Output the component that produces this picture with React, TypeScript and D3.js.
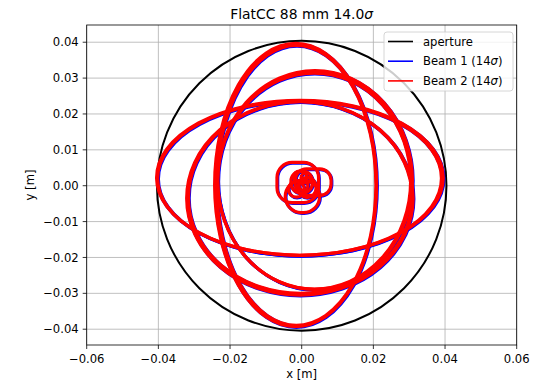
import React, { useEffect, useRef } from 'react'
import * as d3 from 'd3'

const xTicks = [-0.06, -0.04, -0.02, 0, 0.02, 0.04, 0.06]
const yTicks = [-0.04, -0.03, -0.02, -0.01, 0, 0.01, 0.02, 0.03, 0.04]
const apertureRadius = 0.0404

// beam envelope ellipses (centre and half axes, metres), several traces per band
const beam2Cx = [-0.0017, -0.0015, 0.0037, 0.0035, -0.0005, -0.0004, -0.0005, -0.0006]
const beam2Cy = [0.0002, 0.0001, 0.0016, 0.0013, -0.0035, -0.0033, 0.0022, 0.0021]
const beam2Rx = [0.0226, 0.0222, 0.0272, 0.0269, 0.0316, 0.0312, 0.04, 0.0396]
const beam2Ry = [0.0395, 0.039, 0.0305, 0.0301, 0.027, 0.0267, 0.0216, 0.0215]

const beam1Cx = [-0.0015, -0.0013, 0.0039, 0.0037, -0.0003, -0.0002, -0.0003, -0.0004]
const beam1Cy = [0.0, -0.0001, 0.0014, 0.0011, -0.0037, -0.0035, 0.002, 0.0019]
const beam1Rx = [0.0226, 0.0222, 0.0272, 0.0269, 0.0316, 0.0312, 0.04, 0.0396]
const beam1Ry = [0.0395, 0.039, 0.0305, 0.0301, 0.027, 0.0267, 0.0216, 0.0215]

// small beam cores near the centre (rounded squares)
const core2Cx = [-0.0011, 0.0032, 0.0002, 0.0, 0.0015, -0.0015, 0.0005, -0.0004, 0.0012]
const core2Cy = [0.0009, 0.001, -0.003, 0.001, -0.0005, -0.001, 0.0002, 0.0025, 0.0022]
const core2Hw = [0.0058, 0.005, 0.0048, 0.003, 0.0025, 0.0022, 0.0012, 0.0018, 0.0014]
const core2Hh = [0.0056, 0.0037, 0.0045, 0.003, 0.0028, 0.0022, 0.0015, 0.0016, 0.0014]
const core2Round = [0.75, 0.85, 1, 0.9, 1, 1, 1, 1, 1]

const core1Cx = [-0.0009, 0.0034, 0.0004, 0.0002, 0.0017, -0.0013, 0.0007, -0.0002, 0.0014]
const core1Cy = [0.0007, 0.0008, -0.0032, 0.0008, -0.0007, -0.0012, 0.0, 0.0023, 0.002]
const core1Hw = [0.0058, 0.005, 0.0048, 0.003, 0.0025, 0.0022, 0.0012, 0.0018, 0.0014]
const core1Hh = [0.0056, 0.0037, 0.0045, 0.003, 0.0028, 0.0022, 0.0015, 0.0016, 0.0014]
const core1Round = [0.75, 0.85, 1, 0.9, 1, 1, 1, 1, 1]

const legendLabels = ['aperture', 'Beam 1 (14', 'Beam 2 (14']
const legendColors = ['#000000', '#0000ff', '#ff0000']

const fmt = (v: number) => {
  const s = v.toFixed(2)
  return s.startsWith('-') ? '\u2212' + s.slice(1) : s
}

export default function App() {
  const svgRef = useRef<SVGSVGElement>(null)

  useEffect(() => {
    if (!svgRef.current) return
    const svg = d3.select(svgRef.current)
    svg.selectAll('*').remove()

    const width = 542
    const height = 383
    const margin = { top: 25, right: 25.3, bottom: 38, left: 86.7 }
    const font = 'DejaVu Sans, sans-serif'

    const x = d3.scaleLinear().domain([-0.06, 0.06]).range([margin.left, width - margin.right])
    const y = d3.scaleLinear().domain([-0.0444, 0.0448]).range([height - margin.bottom, margin.top])

    const g = svg.append('g')

    // grid
    g.selectAll('.vgrid')
      .data(xTicks)
      .join('line')
      .attr('x1', (d) => x(d))
      .attr('x2', (d) => x(d))
      .attr('y1', y.range()[0])
      .attr('y2', y.range()[1])
      .attr('stroke', '#b0b0b0')
      .attr('stroke-width', 0.8)

    g.selectAll('.hgrid')
      .data(yTicks)
      .join('line')
      .attr('x1', x.range()[0])
      .attr('x2', x.range()[1])
      .attr('y1', (d) => y(d))
      .attr('y2', (d) => y(d))
      .attr('stroke', '#b0b0b0')
      .attr('stroke-width', 0.8)

    svg
      .append('clipPath')
      .attr('id', 'plot-clip')
      .append('rect')
      .attr('x', x.range()[0])
      .attr('y', y.range()[1])
      .attr('width', x.range()[1] - x.range()[0])
      .attr('height', y.range()[0] - y.range()[1])

    const plot = g.append('g').attr('clip-path', 'url(#plot-clip)')

    // aperture
    plot
      .append('ellipse')
      .attr('cx', x(0))
      .attr('cy', y(0))
      .attr('rx', x(apertureRadius) - x(0))
      .attr('ry', y(0) - y(apertureRadius))
      .attr('fill', 'none')
      .attr('stroke', '#000')
      .attr('stroke-width', 2)

    const drawBeam = (
      cx: number[], cy: number[], rx: number[], ry: number[],
      hx: number[], hy: number[], hw: number[], hh: number[], round: number[],
      color: string
    ) => {
      plot
        .append('g')
        .selectAll('ellipse')
        .data(cx.map((_, i) => i))
        .join('ellipse')
        .attr('cx', (i) => x(cx[i]))
        .attr('cy', (i) => y(cy[i]))
        .attr('rx', (i) => x(rx[i]) - x(0))
        .attr('ry', (i) => y(0) - y(ry[i]))
        .attr('fill', 'none')
        .attr('stroke', color)
        .attr('stroke-width', 3.2)

      plot
        .append('g')
        .selectAll('rect')
        .data(hx.map((_, i) => i))
        .join('rect')
        .attr('x', (i) => x(hx[i] - hw[i]))
        .attr('y', (i) => y(hy[i] + hh[i]))
        .attr('width', (i) => x(hw[i] * 2) - x(0))
        .attr('height', (i) => y(0) - y(hh[i] * 2))
        .attr('rx', (i) => round[i] * Math.min(x(hw[i]) - x(0), y(0) - y(hh[i])))
        .attr('fill', 'none')
        .attr('stroke', color)
        .attr('stroke-width', 3.2)
    }

    drawBeam(beam1Cx, beam1Cy, beam1Rx, beam1Ry, core1Cx, core1Cy, core1Hw, core1Hh, core1Round, '#0000ff')
    drawBeam(beam2Cx, beam2Cy, beam2Rx, beam2Ry, core2Cx, core2Cy, core2Hw, core2Hh, core2Round, '#ff0000')

    // frame
    g.append('rect')
      .attr('x', x.range()[0])
      .attr('y', y.range()[1])
      .attr('width', x.range()[1] - x.range()[0])
      .attr('height', y.range()[0] - y.range()[1])
      .attr('fill', 'none')
      .attr('stroke', '#000')
      .attr('stroke-width', 0.8)

    // x axis
    const xAxis = g.append('g')
    xAxis
      .selectAll('line')
      .data(xTicks)
      .join('line')
      .attr('x1', (d) => x(d))
      .attr('x2', (d) => x(d))
      .attr('y1', y.range()[0])
      .attr('y2', y.range()[0] + 4)
      .attr('stroke', '#000')
      .attr('stroke-width', 0.8)
    xAxis
      .selectAll('text')
      .data(xTicks)
      .join('text')
      .attr('x', (d) => x(d))
      .attr('y', y.range()[0] + 17.5)
      .attr('text-anchor', 'middle')
      .attr('font-family', font)
      .attr('font-size', '11.6px')
      .attr('fill', '#000')
      .text((d) => fmt(d))

    // y axis
    const yAxis = g.append('g')
    yAxis
      .selectAll('line')
      .data(yTicks)
      .join('line')
      .attr('x1', x.range()[0] - 4)
      .attr('x2', x.range()[0])
      .attr('y1', (d) => y(d))
      .attr('y2', (d) => y(d))
      .attr('stroke', '#000')
      .attr('stroke-width', 0.8)
    yAxis
      .selectAll('text')
      .data(yTicks)
      .join('text')
      .attr('x', x.range()[0] - 8)
      .attr('y', (d) => y(d))
      .attr('dy', '0.35em')
      .attr('text-anchor', 'end')
      .attr('font-family', font)
      .attr('font-size', '11.6px')
      .attr('fill', '#000')
      .text((d) => fmt(d))

    g.append('text')
      .attr('x', (x.range()[0] + x.range()[1]) / 2)
      .attr('y', 378)
      .attr('text-anchor', 'middle')
      .attr('font-family', font)
      .attr('font-size', '11.6px')
      .text('x [m]')

    g.append('text')
      .attr('transform', `translate(34, ${(y.range()[0] + y.range()[1]) / 2}) rotate(-90)`)
      .attr('text-anchor', 'middle')
      .attr('font-family', font)
      .attr('font-size', '11.6px')
      .text('y [m]')

    // title
    const title = g
      .append('text')
      .attr('x', (x.range()[0] + x.range()[1]) / 2)
      .attr('y', 19)
      .attr('text-anchor', 'middle')
      .attr('font-family', font)
      .attr('font-size', '13.9px')
    title.append('tspan').text('FlatCC 88 mm 14.0')
    title.append('tspan').attr('font-style', 'italic').text('\u03c3')

    // legend
    const legend = g.append('g').attr('transform', 'translate(384, 32)')
    legend
      .append('rect')
      .attr('width', 129)
      .attr('height', 59)
      .attr('rx', 3)
      .attr('fill', '#fff')
      .attr('fill-opacity', 0.8)
      .attr('stroke', '#cccccc')
      .attr('stroke-width', 0.8)

    legend
      .selectAll('g')
      .data(legendLabels)
      .join('g')
      .attr('transform', (d, i) => `translate(0, ${9.5 + i * 19.7})`)
      .each(function (d, i) {
        const row = d3.select(this)
        row.append('line')
          .attr('x1', 4)
          .attr('x2', 29)
          .attr('stroke', legendColors[i])
          .attr('stroke-width', 1.6)
        const t = row.append('text')
          .attr('x', 39)
          .attr('dy', '0.35em')
          .attr('font-family', font)
          .attr('font-size', '11.6px')
          .attr('fill', '#000')
        t.append('tspan').text(d)
        if (i > 0) {
          t.append('tspan').attr('font-style', 'italic').text('\u03c3')
          t.append('tspan').text(')')
        }
      })
  }, [])

  return (
    <div style={{ position: 'absolute', left: 0, top: 0 }}>
      <svg ref={svgRef} width={542} height={383} style={{ display: 'block', background: '#fff' }} />
    </div>
  )
}
